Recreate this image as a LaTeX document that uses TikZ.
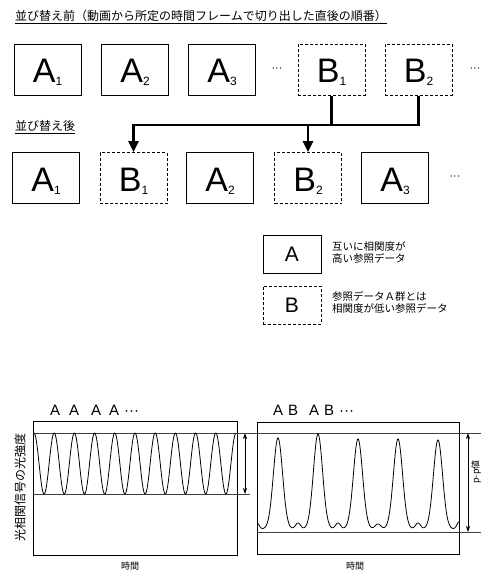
\documentclass[tikz,border=0pt]{standalone}
\usepackage{fontspec}
\setmainfont{Liberation Sans}
\newfontfamily\jp{Noto Sans CJK JP}
\usetikzlibrary{arrows.meta}
\newcommand\boxlab[2]{#1\raisebox{-3pt}{\fontsize{12}{12}\selectfont #2}}
\begin{document}
\begin{tikzpicture}[x=1pt,y=-1pt,
  box/.style={draw, line width=1pt, minimum width=67pt, minimum height=51pt, inner sep=0pt,
    font=\fontsize{34}{34}\selectfont, text height=26.5pt, text depth=0pt},
  sbox/.style={box},
  dbox/.style={box, dash pattern=on 3pt off 2pt},
  lbox/.style={draw, line width=1pt, minimum width=58pt, minimum height=38pt, inner sep=0pt,
    font=\fontsize{21}{21}\selectfont, text height=15pt, text depth=0pt},
  conn/.style={line width=2.6pt, line join=miter},
  tip/.style={-{Triangle[length=11pt,width=10pt]}},
  jtitle/.style={font=\jp\fontsize{12}{12}\selectfont, inner sep=0pt, anchor=west},
  legtext/.style={font=\jp\fontsize{10.5}{11.5}\selectfont, inner sep=0pt, anchor=west, align=left},
  dots/.style={font=\fontsize{11}{11}\selectfont, inner sep=0pt},
  frame/.style={line width=0.9pt},
  level/.style={line width=0.5pt, black!75},
  wave/.style={line width=0.8pt},
  meas/.style={line width=0.6pt, {Stealth[length=6pt,width=4pt]}-{Stealth[length=6pt,width=4pt]}},
  seq/.style={font=\fontsize{15}{15}\selectfont, inner sep=0pt, anchor=base west},
  declare function={g(\u)=exp(-min((\u)*(\u),9));}
]
\useasboundingbox (0,0) rectangle (481,574);

% titles
\node[jtitle] (t1) at (15,17) {\underline{並び替え前（動画から所定の時間フレームで切り出した直後の順番）}};
\node[jtitle] (t2) at (15,127) {\underline{並び替え後}};

% top row
\node[sbox] (tA1) at (47.5,69.5) {\boxlab{A}{1}};
\node[sbox] (tA2) at (135,69.5) {\boxlab{A}{2}};
\node[sbox] (tA3) at (222,69.5) {\boxlab{A}{3}};
\node[dots] (td1) at (277,69.5) {···};
\node[dbox] (tB1) at (331.5,69.5) {\boxlab{B}{1}};
\node[dbox] (tB2) at (418.5,69.5) {\boxlab{B}{2}};
\node[dots] (td2) at (475,69.5) {···};

% bottom row
\node[sbox] (bA1) at (46,178) {\boxlab{A}{1}};
\node[dbox] (bB1) at (133.5,178) {\boxlab{B}{1}};
\node[sbox] (bA2) at (220,178) {\boxlab{A}{2}};
\node[dbox] (bB2) at (308,178) {\boxlab{B}{2}};
\node[sbox] (bA3) at (395,178) {\boxlab{A}{3}};
\node[dots] (bd) at (455,178) {···};

% connectors
\coordinate (hj) at (0,125);
\draw[conn,tip] (tB2.south) |- (bB1.north |- hj) -- (bB1.north);
\draw[conn] (tB1.south) -- (tB1.south |- hj);
\draw[conn,tip] (bB2.north |- hj) -- (bB2.north);

% legend
\node[lbox] (lA) at (292,254) {A};
\node[lbox, dash pattern=on 3pt off 2pt] (lB) at (292,305) {B};
\node[legtext] (lAt) at (332,252.5) {互いに相関度が\\高い参照データ};
\node[legtext] (lBt) at (332,302.5) {参照データＡ群とは\\相関度が低い参照データ};

% left chart
\draw[frame] (33,421) rectangle (237,555);
\draw[level] (33,433) -- (250,433);
\draw[level] (33,494) -- (250,494);
\draw[wave] plot[domain=34:236, samples=400, smooth] (\x,{463.5-30.5*cos(17.8218*(\x-34))});
\coordinate (m1a) at (245,433);
\coordinate (m1b) at (245,494);
\draw[meas] (m1a) -- (m1b);
\node[seq] (s1) at (50,415) {A\hspace{9pt}A\hspace{12pt}A\hspace{8pt}A\hspace{5pt}···};
\node[font=\jp\fontsize{9}{9}\selectfont, inner sep=0pt] (x1) at (130,566) {時間};
\node[font=\jp\fontsize{12}{12}\selectfont, inner sep=0pt, rotate=90] (yl) at (20,487.5) {光相関信号の光強度};

% right chart
\draw[frame] (257,422) rectangle (459,554);
\draw[level] (240,433) -- (481,433);
\draw[level] (257,532) -- (481,532);
\draw[wave] plot[domain=257:459, samples=405] (\x,{529
  -91*g((\x-278)/6.5) -95*g((\x-318)/6.5) -90*g((\x-358)/6.5) -90*g((\x-398)/6.5) -89*g((\x-438)/6.5)
  -6*g((\x-298)/3.5) -6*g((\x-338)/3.5) -5*g((\x-378)/4) -6*g((\x-418)/3.5)
  -6*g((\x-257)/3) -7*g((\x-459)/3)});
\coordinate (m2a) at (468,433);
\coordinate (m2b) at (468,532);
\draw[meas] (m2a) -- (m2b);
\node[font=\jp\fontsize{9}{9}\selectfont, inner sep=0pt, rotate=90] (pp) at (476,472) {p-p値};
\node[seq] (s2) at (273,415) {A\hspace{5pt}B\hspace{11pt}A\hspace{5pt}B\hspace{5pt}···};
\node[font=\jp\fontsize{9}{9}\selectfont, inner sep=0pt] (x2) at (355,566) {時間};
\end{tikzpicture}
\end{document}
